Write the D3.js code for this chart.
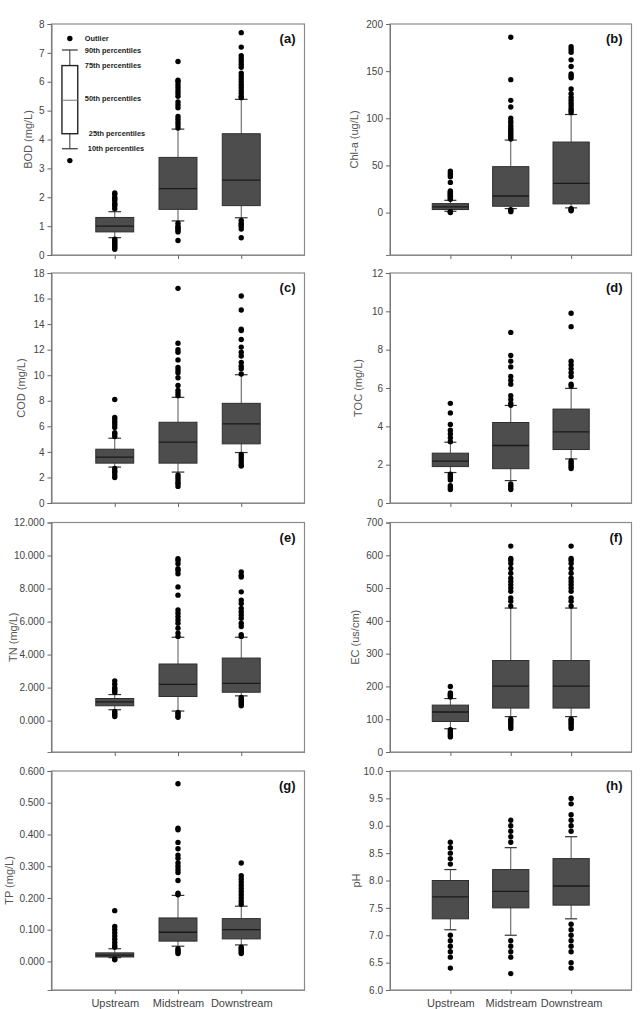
<!DOCTYPE html>
<html>
<head>
<meta charset="utf-8">
<script src="https://cdn.jsdelivr.net/npm/d3@7"></script>
<style>
  body { margin: 0; background: #fff; }
  svg text { font-family: "Liberation Sans", Arial, sans-serif; }
</style>
</head>
<body>
<div id="chart"></div>
<script>
// categories on the x axis
const categories = ["Upstream", "Midstream", "Downstream"];

// box stats per category: [10th, 25th, 50th, 75th, 90th]
const bodBox = [[0.6, 0.8, 1.0, 1.3, 1.5], [1.18, 1.58, 2.3, 3.38, 4.36], [1.29, 1.71, 2.59, 4.2, 5.39]];
const bodOut = [
  [2.15, 2.1, 2.0, 1.95, 1.9, 1.8, 1.75, 1.7, 1.6, 0.55, 0.5, 0.45, 0.4, 0.35, 0.3, 0.25, 0.2],
  [4.4, 4.5, 4.6, 4.7, 4.8, 5.1, 5.2, 5.3, 5.5, 5.6, 5.7, 5.8, 5.9, 6.0, 6.05, 6.7, 1.1, 1.0, 0.95, 0.9, 0.85, 0.8, 0.5],
  [5.45, 5.5, 5.6, 5.7, 5.8, 5.9, 6.0, 6.1, 6.2, 6.3, 6.5, 6.6, 6.7, 6.8, 6.9, 7.2, 7.7, 1.2, 1.1, 1.05, 1.0, 0.9, 0.6]
];
const chlBox = [[1.4, 3.2, 6, 9.5, 13], [4.2, 6.7, 17.6, 48.7, 76.9], [5, 9.2, 31, 74.8, 104]];
const chlOut = [
  [14, 15, 16, 17, 18, 19, 20, 21, 22, 23, 32, 38, 40, 42, 44, 1, 0.5, 0],
  [78, 80, 82, 84, 86, 88, 90, 92, 95, 97, 100, 112, 119, 141, 186, 3, 2, 1],
  [106, 108, 110, 113, 116, 119, 122, 126, 131, 143, 145, 147, 155, 162, 170, 173, 176, 4, 3, 2]
];
const codBox = [[2.81, 3.12, 3.59, 4.21, 5.07], [2.42, 3.12, 4.76, 6.32, 8.27], [3.95, 4.63, 6.19, 7.8, 10.04]];
const codOut = [
  [5.2, 5.4, 5.5, 5.9, 6.1, 6.3, 6.5, 6.7, 8.1, 2.7, 2.5, 2.4, 2.2, 2.0],
  [8.4, 8.6, 8.8, 9.2, 9.8, 10.2, 10.4, 10.6, 11.2, 11.8, 12.0, 12.5, 16.8, 2.2, 2.0, 1.8, 1.6, 1.5, 1.3],
  [10.1, 10.5, 10.7, 11.0, 11.5, 11.8, 12.2, 12.8, 13.5, 13.6, 15.1, 16.2, 3.8, 3.6, 3.4, 3.2, 3.0, 2.9]
];
const tocBox = [[1.59, 1.9, 2.18, 2.6, 3.17], [1.17, 1.79, 3.0, 4.2, 5.09], [2.3, 2.79, 3.71, 4.9, 5.98]];
const tocOut = [
  [3.2, 3.4, 3.6, 3.8, 4.1, 4.7, 5.2, 1.5, 1.4, 1.3, 1.2, 0.9, 0.8, 0.7],
  [5.1, 5.2, 5.4, 5.6, 6.2, 6.4, 6.6, 7.1, 7.4, 7.7, 8.9, 1.0, 0.9, 0.8, 0.7],
  [6.1, 6.2, 6.6, 6.8, 7.0, 7.2, 7.4, 9.2, 9.9, 2.2, 2.1, 2.0, 1.9, 1.8]
];
const tnBox = [[0.66, 0.9, 1.14, 1.34, 1.58], [0.58, 1.46, 2.2, 3.43, 5.05], [1.5, 1.72, 2.26, 3.79, 5.05]];
const tnOut = [
  [1.7, 1.8, 1.9, 2.0, 2.2, 2.4, 0.55, 0.45, 0.35, 0.25],
  [5.1, 5.3, 5.6, 5.9, 6.1, 6.3, 6.5, 6.7, 7.6, 8.1, 8.9, 9.1, 9.2, 9.5, 9.7, 9.8, 0.5, 0.4, 0.3, 0.2],
  [5.1, 5.2, 5.7, 5.9, 6.2, 6.4, 6.6, 6.8, 7.1, 7.3, 7.8, 8.7, 8.8, 9.0, 1.4, 1.3, 1.2, 1.1, 1.0, 0.9]
];
const ecBox = [[71, 93, 122, 143, 163], [108, 134, 201, 279, 439], [108, 134, 201, 279, 439]];
const ecOut = [
  [168, 172, 176, 180, 200, 68, 62, 56, 50, 46],
  [445, 460, 470, 490, 500, 510, 520, 530, 545, 560, 575, 585, 590, 628, 100, 95, 90, 85, 78, 72],
  [445, 460, 470, 490, 500, 510, 520, 530, 545, 560, 575, 585, 590, 628, 100, 95, 90, 85, 78, 72]
];
const tpBox = [[0.012, 0.014, 0.02, 0.027, 0.04], [0.048, 0.064, 0.092, 0.137, 0.208], [0.052, 0.071, 0.1, 0.135, 0.174]];
const tpOut = [
  [0.045, 0.05, 0.06, 0.07, 0.08, 0.09, 0.1, 0.11, 0.16, 0.008, 0.005],
  [0.21, 0.215, 0.255, 0.28, 0.29, 0.3, 0.31, 0.325, 0.335, 0.355, 0.375, 0.415, 0.42, 0.56, 0.04, 0.035, 0.03, 0.025],
  [0.18, 0.19, 0.2, 0.21, 0.22, 0.23, 0.24, 0.25, 0.26, 0.27, 0.31, 0.045, 0.04, 0.035, 0.03, 0.025]
];
const phBox = [[7.1, 7.3, 7.7, 8.0, 8.2], [7.0, 7.5, 7.8, 8.2, 8.6], [7.3, 7.55, 7.9, 8.4, 8.8]];
const phOut = [
  [8.3, 8.4, 8.5, 8.6, 8.7, 7.0, 6.9, 6.8, 6.7, 6.6, 6.4],
  [8.7, 8.8, 8.9, 9.0, 9.1, 6.9, 6.8, 6.7, 6.6, 6.3],
  [8.9, 9.0, 9.1, 9.2, 9.4, 9.5, 7.2, 7.1, 7.0, 6.9, 6.8, 6.7, 6.5, 6.4]
];

// tick values
const bodTicks = d3.range(0, 9, 1);
const chlTicks = [0, 50, 100, 150, 200];
const codTicks = d3.range(0, 19, 2);
const tocTicks = d3.range(0, 13, 2);
const tnTicks = d3.range(0, 13, 2);
const ecTicks = d3.range(0, 701, 100);
const tpTicks = [0, 0.1, 0.2, 0.3, 0.4, 0.5, 0.6];
const phTicks = [6, 6.5, 7, 7.5, 8, 8.5, 9, 9.5, 10];

// legend drawn inside panel (a): [10th, 25th, 50th, 75th, 90th], outlier, legend label
const legendBox = [3.68, 4.2, 5.36, 6.56, 7.1];
const legendOutlier = 3.27;
const legendKeyDot = 7.5;
const legendLabels = ["Outlier", "90th percentiles", "75th percentiles", "50th percentiles", "25th percentiles", "10th percentiles"];

const W = 643, H = 1009;
const colX = [[51.5, 304.5], [390, 631.5]];
const rowY = [[24, 255], [273, 503], [522.5, 752], [771, 990]];

const panels = [
  {id: "(a)", title: "BOD (mg/L)", box: bodBox, out: bodOut, domain: [0, 8], ticks: bodTicks, fmt: d3.format("d"), c: 0, r: 0, tx: 28},
  {id: "(b)", title: "Chl-a (ug/L)", box: chlBox, out: chlOut, domain: [-45, 200], ticks: chlTicks, fmt: d3.format("d"), c: 1, r: 0, tx: 354},
  {id: "(c)", title: "COD (mg/L)", box: codBox, out: codOut, domain: [0, 18], ticks: codTicks, fmt: d3.format("d"), c: 0, r: 1, tx: 21},
  {id: "(d)", title: "TOC (mg/L)", box: tocBox, out: tocOut, domain: [0, 12], ticks: tocTicks, fmt: d3.format("d"), c: 1, r: 1, tx: 358},
  {id: "(e)", title: "TN (mg/L)", box: tnBox, out: tnOut, domain: [-1.9, 12], ticks: tnTicks, fmt: d3.format(".3f"), c: 0, r: 2, tx: 13},
  {id: "(f)", title: "EC (us/cm)", box: ecBox, out: ecOut, domain: [0, 700], ticks: ecTicks, fmt: d3.format("d"), c: 1, r: 2, tx: 355},
  {id: "(g)", title: "TP (mg/L)", box: tpBox, out: tpOut, domain: [-0.09, 0.6], ticks: tpTicks, fmt: d3.format(".3f"), c: 0, r: 3, tx: 9},
  {id: "(h)", title: "pH", box: phBox, out: phOut, domain: [6, 10], ticks: phTicks, fmt: d3.format(".1f"), c: 1, r: 3, tx: 356}
];

const svg = d3.select("#chart").append("svg")
  .attr("width", W)
  .attr("height", H);

const boxFill = "#4d4d4d";
const boxStroke = "#2e2e2e";

panels.forEach(function(p) {
  const [x0, x1] = colX[p.c];
  const [y0, y1] = rowY[p.r];

  const x = d3.scaleLinear().domain([0, 4]).range([x0, x1]);
  const y = d3.scaleLinear().domain(p.domain).range([y1, y0]);
  const g = svg.append("g");

  // frame
  g.append("rect")
    .attr("x", x0).attr("y", y0)
    .attr("width", x1 - x0).attr("height", y1 - y0)
    .attr("fill", "none")
    .attr("stroke", "#8a8a8a")
    .attr("stroke-width", 1.2);

  // y axis
  const yAxis = d3.axisLeft(y).tickValues(p.ticks).tickFormat(p.fmt).tickSizeOuter(0).tickSize(4).tickPadding(3);
  const ya = g.append("g").attr("transform", `translate(${x0},0)`).call(yAxis);
  ya.select(".domain").attr("stroke", "#777");
  ya.selectAll(".tick line").attr("stroke", "#666");
  ya.selectAll(".tick text").attr("fill", "#444").style("font-size", "10px");

  // x axis ticks (labels only on bottom row)
  const xAxis = d3.axisBottom(x).tickValues([1, 2, 3]).tickSize(4).tickSizeOuter(0)
    .tickFormat(p.r === 3 ? (d => categories[d - 1]) : "");
  const xa = g.append("g").attr("transform", `translate(0,${y1})`).call(xAxis);
  xa.select(".domain").attr("stroke", "#8a8a8a");
  xa.selectAll(".tick line").attr("stroke", "#666");
  xa.selectAll(".tick text").attr("fill", "#444").style("font-size", "11px").attr("dy", "0.95em");

  // y title
  g.append("text")
    .attr("transform", `translate(${p.tx},${(y0 + y1) / 2}) rotate(-90)`)
    .attr("text-anchor", "middle")
    .attr("dy", "0.35em")
    .attr("fill", "#555")
    .style("font-size", "11px")
    .text(p.title);

  // panel id
  g.append("text")
    .attr("x", x1 - 9).attr("y", y0 + 19)
    .attr("text-anchor", "end")
    .attr("fill", "#111")
    .style("font-size", "13px")
    .style("font-weight", "bold")
    .text(p.id);

  const bw = 0.6, cw = 0.2;
  categories.forEach(function(cat, i) {
    const cx = i + 1;
    const [p10, q1, med, q3, p90] = p.box[i];
    // whiskers
    g.append("line").attr("x1", x(cx)).attr("x2", x(cx)).attr("y1", y(q3)).attr("y2", y(p90)).attr("stroke", "#555");
    g.append("line").attr("x1", x(cx)).attr("x2", x(cx)).attr("y1", y(q1)).attr("y2", y(p10)).attr("stroke", "#555");
    g.append("line").attr("x1", x(cx - cw / 2)).attr("x2", x(cx + cw / 2)).attr("y1", y(p90)).attr("y2", y(p90)).attr("stroke", "#333").attr("stroke-width", 1.2);
    g.append("line").attr("x1", x(cx - cw / 2)).attr("x2", x(cx + cw / 2)).attr("y1", y(p10)).attr("y2", y(p10)).attr("stroke", "#333").attr("stroke-width", 1.2);
    // box
    g.append("rect")
      .attr("x", x(cx - bw / 2)).attr("width", x(cx + bw / 2) - x(cx - bw / 2))
      .attr("y", y(q3)).attr("height", Math.max(y(q1) - y(q3), 2))
      .attr("fill", boxFill).attr("stroke", boxStroke).attr("stroke-width", 1);
    g.append("line").attr("x1", x(cx - bw / 2)).attr("x2", x(cx + bw / 2)).attr("y1", y(med)).attr("y2", y(med)).attr("stroke", "#1a1a1a").attr("stroke-width", 1.3);
    // outliers
    g.selectAll(null).data(p.out[i]).enter().append("circle")
      .attr("cx", x(cx)).attr("cy", d => y(d)).attr("r", 2.7).attr("fill", "#000");
  });

  // legend inside panel (a)
  if (p.id === "(a)") {
    const lx = 0.29, lw = 0.25;
    const [p10, q1, med, q3, p90] = legendBox;
    g.append("line").attr("x1", x(lx)).attr("x2", x(lx)).attr("y1", y(q3)).attr("y2", y(p90)).attr("stroke", "#333");
    g.append("line").attr("x1", x(lx)).attr("x2", x(lx)).attr("y1", y(q1)).attr("y2", y(p10)).attr("stroke", "#333");
    [p90, p10].forEach(v => g.append("line").attr("x1", x(lx - lw / 2)).attr("x2", x(lx + lw / 2)).attr("y1", y(v)).attr("y2", y(v)).attr("stroke", "#333").attr("stroke-width", 1.2));
    g.append("rect").attr("x", x(lx - lw / 2)).attr("width", x(lx + lw / 2) - x(lx - lw / 2))
      .attr("y", y(q3)).attr("height", y(q1) - y(q3))
      .attr("fill", "#fff").attr("stroke", "#222").attr("stroke-width", 1.4);
    g.append("line").attr("x1", x(lx - lw / 2)).attr("x2", x(lx + lw / 2)).attr("y1", y(med)).attr("y2", y(med)).attr("stroke", "#777");
    [legendKeyDot, legendOutlier].forEach(v => g.append("circle").attr("cx", x(lx)).attr("cy", y(v)).attr("r", 2.7).attr("fill", "#000"));
    const labelVals = [legendKeyDot, p90, q3, med + 0.08, q1, p10];
    const labelDx = [0, 0, 0, 0, 4, 3];
    legendLabels.forEach(function(t, k) {
      g.append("text")
        .attr("x", x(lx) + 15 + labelDx[k]).attr("y", y(labelVals[k]))
        .attr("dy", "0.35em")
        .attr("fill", "#222")
        .style("font-size", "7.4px")
        .style("font-weight", "bold")
        .text(t);
    });
  }
});
</script>
</body>
</html>
